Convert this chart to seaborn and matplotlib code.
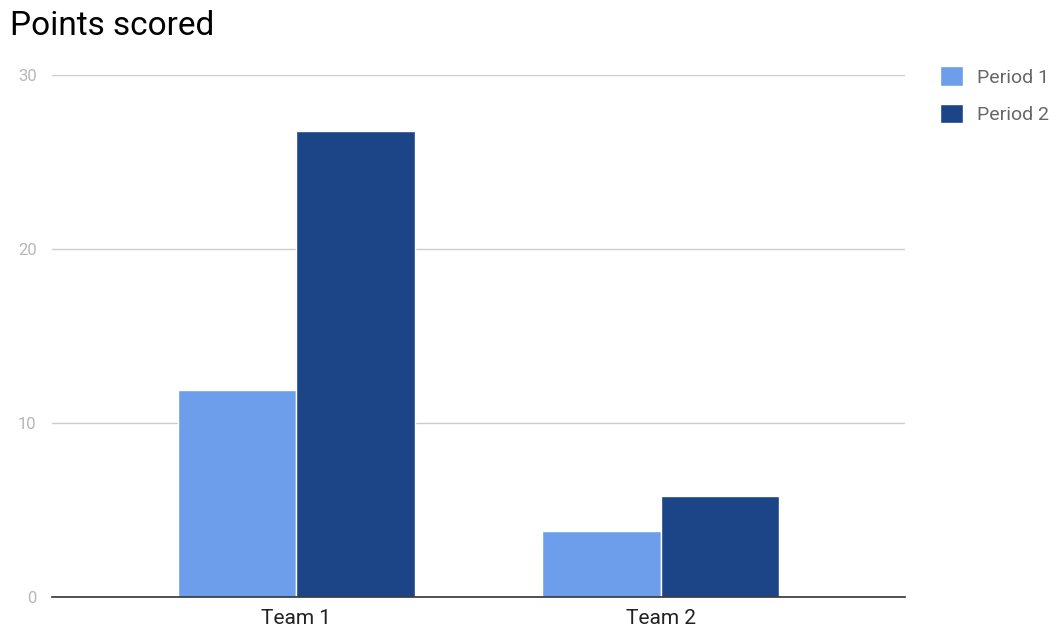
import matplotlib
matplotlib.use("Agg")
import matplotlib.pyplot as plt
import pandas as pd
import seaborn as sns

teams = ["Team 1", "Team 2"]
period_1 = [11.9, 3.8]
period_2 = [26.8, 5.8]
series = ["Period 1", "Period 2"]

df = pd.DataFrame({
    "team": teams * 2,
    "period": [series[0]] * 2 + [series[1]] * 2,
    "points": period_1 + period_2,
})

sns.set_style("white")
plt.rcParams["font.family"] = ["Roboto", "DejaVu Sans"]

fig = plt.figure(figsize=(10.64, 6.28), dpi=100)
ax = fig.add_axes([52 / 1064, 1 - 597 / 628, (905 - 52) / 1064, (597 - 75) / 628])

sns.barplot(data=df, x="team", y="points", hue="period", order=teams,
            hue_order=series, palette=["#6d9eeb", "#1c4587"], width=0.65,
            edgecolor="white", linewidth=1, saturation=1, ax=ax)

ax.set_ylim(0, 30)
ax.set_xlim(-0.67, 1.67)
ax.set_yticks([0, 10, 20, 30])
ax.yaxis.grid(True, color="#cccccc", linewidth=1)
ax.set_axisbelow(True)
for s in ["top", "right", "left"]:
    ax.spines[s].set_visible(False)
ax.spines["bottom"].set_color("#333333")
ax.spines["bottom"].set_linewidth(1.2)
ax.tick_params(axis="y", length=0, labelsize=12, labelcolor="#b7b7b7", pad=11)
ax.tick_params(axis="x", length=0, labelsize=15, labelcolor="#222222", pad=9)
ax.set_xlabel("")
ax.set_ylabel("")

fig.text(10 / 1064, 1 - 26 / 628, "Points scored", fontsize=24, color="#000000",
         va="center", ha="left")

ax.legend(loc="upper left", bbox_to_anchor=(1.021, 1.05), frameon=False,
          fontsize=14, labelcolor="#666666", handlelength=1.15, handleheight=1.15,
          handletextpad=0.75, labelspacing=0.9)

fig.savefig("out.png", dpi=100, facecolor="white")
